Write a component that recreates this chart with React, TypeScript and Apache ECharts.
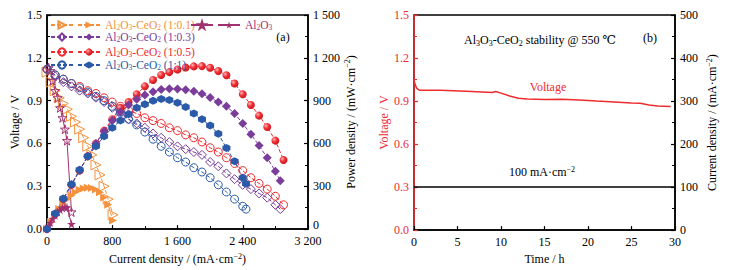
import React, { useEffect, useRef } from 'react';
import * as echarts from 'echarts';

const FONT = 'Liberation Serif, DejaVu Serif, serif';

const ORANGE = '#f5913c';
const PURPLE = '#7b3d9b';
const RED = '#ee2b2f';
const BLUE = '#2a5aa8';
const MAROON = '#a0306f';

// ---------- panel (a): current density (mA/cm2), voltage (V), power density (mW/cm2)
const curr01 = [0, 50, 100, 150, 200, 250, 300, 350, 400, 450, 500, 550, 600, 650, 700, 750, 810];
const volt01 = [1.10, 1.03, 0.97, 0.92, 0.88, 0.84, 0.79, 0.75, 0.70, 0.64, 0.58, 0.52, 0.45, 0.38, 0.30, 0.21, 0.10];
const pow01 = [0, 50, 95, 140, 175, 210, 235, 258, 275, 285, 290, 288, 278, 258, 222, 170, 60];

const currAl = [20, 40, 70, 100, 130, 160, 190, 220, 245, 300];
const voltAl = [1.13, 1.11, 1.04, 0.97, 0.92, 0.85, 0.78, 0.70, 0.62, 0.12];
const powAl = [23, 44, 73, 97, 120, 136, 148, 154, 152, 36];

const curr03 = [0, 100, 200, 300, 400, 500, 600, 700, 800, 900, 1000, 1100, 1200, 1300, 1400, 1500, 1600, 1700, 1800, 1900, 2000, 2100, 2200, 2300, 2400, 2500, 2600, 2700, 2800, 2860];
const volt03 = [1.12, 1.07, 1.03, 1.00, 0.97, 0.95, 0.92, 0.89, 0.85, 0.81, 0.77, 0.74, 0.71, 0.67, 0.64, 0.61, 0.58, 0.56, 0.54, 0.52, 0.47, 0.44, 0.39, 0.35, 0.31, 0.28, 0.25, 0.22, 0.17, 0.14];
const pow03 = [0, 105, 210, 310, 410, 510, 600, 685, 760, 820, 870, 910, 940, 962, 978, 984, 982, 976, 965, 948, 922, 890, 860, 810, 740, 665, 585, 500, 405, 339];

const curr05 = [0, 100, 200, 300, 400, 500, 600, 700, 800, 900, 1000, 1100, 1200, 1300, 1400, 1500, 1600, 1700, 1800, 1900, 2000, 2100, 2200, 2300, 2400, 2500, 2600, 2700, 2800, 2900];
const volt05 = [1.12, 1.08, 1.05, 1.02, 1.00, 0.97, 0.95, 0.92, 0.89, 0.86, 0.83, 0.81, 0.78, 0.76, 0.74, 0.71, 0.69, 0.66, 0.64, 0.61, 0.57, 0.54, 0.50, 0.46, 0.41, 0.36, 0.32, 0.28, 0.23, 0.17];
const pow05 = [0, 105, 210, 310, 410, 510, 600, 690, 770, 850, 890, 945, 1000, 1045, 1080, 1100, 1118, 1132, 1140, 1142, 1130, 1108, 1078, 1020, 945, 870, 795, 715, 620, 484];

const curr11 = [0, 100, 200, 300, 400, 500, 600, 700, 800, 900, 1000, 1100, 1200, 1300, 1400, 1500, 1600, 1700, 1800, 1900, 2000, 2100, 2200, 2300, 2400, 2440];
const volt11 = [1.12, 1.08, 1.05, 1.02, 0.99, 0.96, 0.93, 0.90, 0.86, 0.82, 0.77, 0.73, 0.68, 0.63, 0.58, 0.54, 0.50, 0.47, 0.43, 0.40, 0.36, 0.31, 0.26, 0.21, 0.16, 0.14];
const pow11 = [0, 110, 215, 315, 415, 510, 580, 650, 710, 760, 805, 850, 875, 900, 912, 905, 885, 855, 810, 770, 725, 668, 568, 475, 360, 318];

const xTicksA = ['0', '800', '1 600', '2 400', '3 200'];
const yTicksA = ['0.0', '0.3', '0.6', '0.9', '1.2', '1.5'];
const y2TicksA = ['0', '300', '600', '900', '1 200', '1 500'];

// ---------- panel (b): stability test
const timeB = [0, 0.1, 0.3, 0.6, 3, 6, 9, 9.4, 10, 11, 12, 13, 15, 17, 19, 21, 23, 25, 26, 27, 28, 29.5];
const voltB = [1.05, 1.02, 0.99, 0.975, 0.975, 0.968, 0.96, 0.967, 0.955, 0.935, 0.92, 0.915, 0.91, 0.912, 0.908, 0.9, 0.893, 0.886, 0.884, 0.872, 0.866, 0.862];
const currTimeB = [0, 30];
const currB = [100, 100];

const pairs = (x: number[], y: number[]) => x.map((v, i) => [v, y[i]]);

const STAR = 'path://M50,0 L61,35 L98,35 L68,57 L79,91 L50,70 L21,91 L32,57 L2,35 L39,35 Z';
const HEX = 'path://M50,0 L93,25 L93,75 L50,100 L7,75 L7,25 Z';
const CLEAR = 'rgba(255,255,255,0)';

const richFor = (key: string, color: string) => ({
  [key]: { color, fontSize: 11.5, fontFamily: FONT, lineHeight: 13 },
  [key + 's']: { color, fontSize: 7.5, fontFamily: FONT, lineHeight: 6, verticalAlign: 'bottom' },
});
const alceo = (k: string, ratio: string) =>
  `{${k}|Al}{${k}s|2}{${k}|O}{${k}s|3}{${k}|-CeO}{${k}s|2}{${k}| (${ratio})}`;

const LEGEND_LABELS: Record<string, string> = {
  p01: alceo('o', '1:0.1'),
  p03: alceo('p', '1:0.3'),
  p05: alceo('r', '1:0.5'),
  p11: alceo('b', '1:1'),
  pAl: '{m|Al}{ms|2}{m|O}{ms|3}',
};
const legendRich = {
  ...richFor('o', ORANGE),
  ...richFor('p', PURPLE),
  ...richFor('r', RED),
  ...richFor('b', BLUE),
  ...richFor('m', MAROON),
};

const nameRich = (color: string) => ({
  t: { fontSize: 12, fontFamily: FONT, color, lineHeight: 14 },
  sup: { fontSize: 8, fontFamily: FONT, color, lineHeight: 7, verticalAlign: 'top' },
});

export default function App() {
  const ref = useRef<HTMLDivElement>(null);
  useEffect(() => {
    if (!ref.current) return;
    const chart = echarts.init(ref.current, undefined, { renderer: 'svg' });

    const axisCommon = (color: string) => ({
      type: 'value' as const,
      axisLine: { show: true, onZero: false, lineStyle: { color, width: 1.5 } },
      axisTick: { show: true, inside: true, length: 4, lineStyle: { color, width: 1.2 } },
      minorTick: { show: true, splitNumber: 2, length: 3, lineStyle: { color, width: 1 } },
      splitLine: { show: false },
      minorSplitLine: { show: false },
      axisLabel: { color, fontSize: 12, fontFamily: FONT, margin: 5 },
      nameLocation: 'middle' as const,
    });

    const openStyle = (color: string) => ({ color: CLEAR, borderColor: color, borderWidth: 1 });

    const openLine = (name: string, x: number[], y: number[], color: string, symbol: string, size: number, extra: any = {}) => ({
      name, type: 'line', xAxisIndex: 0, yAxisIndex: 0, data: pairs(x, y),
      symbol, symbolSize: size,
      itemStyle: openStyle(color),
      lineStyle: { color, width: 1, type: [4, 2] },
      ...extra,
    });
    const filledLine = (name: string, x: number[], y: number[], color: string, symbol: string, size: number, extra: any = {}) => ({
      name, type: 'line', xAxisIndex: 0, yAxisIndex: 1, data: pairs(x, y),
      symbol, symbolSize: size,
      itemStyle: { color },
      lineStyle: { color, width: 1, type: [4, 2] },
      ...extra,
    });

    const redBall = new echarts.graphic.RadialGradient(0.35, 0.35, 0.7, [
      { offset: 0, color: '#ffb8b8' },
      { offset: 0.45, color: '#f2333a' },
      { offset: 1, color: '#c81418' },
    ]);

    const legendBase = {
      itemWidth: 22, itemHeight: 9, itemGap: 3, padding: 0, selectedMode: false,
      formatter: (n: string) => LEGEND_LABELS[n] || '',
      textStyle: { rich: legendRich, fontFamily: FONT, fontSize: 11.5 },
    };

    chart.setOption({
      animation: false,
      grid: [
        { left: 47, width: 261, top: 15, height: 217, show: true, borderColor: '#000', borderWidth: 1.5 },
        { left: 414, width: 261, top: 15, height: 217, show: true, borderColor: '#000', borderWidth: 1.5 },
      ],
      xAxis: [
        {
          ...axisCommon('#000'), gridIndex: 0, min: 0, max: 3200, interval: 800,
          axisLabel: { color: '#000', fontSize: 12, fontFamily: FONT, margin: 6, formatter: (v: number) => xTicksA[Math.round(v / 800)] },
          name: '{t|Current density / (mA·cm}{sup|−2}{t|)}', nameGap: 20,
          nameTextStyle: { rich: nameRich('#000') },
        },
        {
          ...axisCommon('#000'), gridIndex: 1, min: 0, max: 30, interval: 5,
          minorTick: { show: false },
          axisLabel: { color: '#000', fontSize: 12, fontFamily: FONT, margin: 6 },
          name: '{t|Time / h}', nameGap: 20,
          nameTextStyle: { rich: nameRich('#000') },
        },
      ],
      yAxis: [
        {
          ...axisCommon('#000'), gridIndex: 0, min: 0, max: 1.5, interval: 0.3,
          axisLabel: { color: '#000', fontSize: 12, fontFamily: FONT, margin: 5, formatter: (v: number) => yTicksA[Math.round(v / 0.3)] },
          name: '{t|Voltage / V}', nameGap: 25, nameRotate: 90,
          nameTextStyle: { rich: nameRich('#000') },
        },
        {
          ...axisCommon('#000'), gridIndex: 0, position: 'right', min: 0, max: 1500, interval: 300,
          axisLabel: {
            color: '#000', fontSize: 12, fontFamily: FONT, margin: 5,
            formatter: (v: number) => (v === 0 ? '{z|0}' : y2TicksA[Math.round(v / 300)]),
            rich: { z: { fontSize: 12, fontFamily: FONT, color: '#000', padding: [0, 0, 8, 0] } },
          },
          name: '{t|Power density / (mW·cm}{sup|−2}{t|)}', nameGap: 32, nameRotate: 90,
          nameTextStyle: { rich: nameRich('#000') },
        },
        {
          ...axisCommon(RED), gridIndex: 1, min: 0, max: 1.5, interval: 0.3,
          axisLabel: { color: RED, fontSize: 12, fontFamily: FONT, margin: 5, formatter: (v: number) => yTicksA[Math.round(v / 0.3)] },
          name: '{t|Voltage / V}', nameGap: 22, nameRotate: 90,
          nameTextStyle: { rich: nameRich(RED) },
        },
        {
          ...axisCommon('#000'), gridIndex: 1, position: 'right', min: 0, max: 500, interval: 100,
          name: '{t|Current density / (mA·cm}{sup|−2}{t|)}', nameGap: 30, nameRotate: 90,
          nameTextStyle: { rich: nameRich('#000') },
        },
      ],
      legend: [
        { ...legendBase, left: 50, top: 19, data: ['v01', 'p01'] },
        { ...legendBase, left: 190, top: 19, data: ['vAl', 'pAl'] },
        { ...legendBase, left: 50, top: 31, data: ['v03', 'p03'] },
        { ...legendBase, left: 50, top: 46, data: ['v05', 'p05'] },
        { ...legendBase, left: 50, top: 59, data: ['v11', 'p11'] },
      ],
      graphic: [
        { type: 'text', x: 283, y: 37, style: { text: '(a)', fontSize: 12, fontFamily: FONT, fill: '#000', align: 'center', verticalAlign: 'middle' } },
        { type: 'text', x: 650, y: 38, style: { text: '(b)', fontSize: 12, fontFamily: FONT, fill: '#000', align: 'center', verticalAlign: 'middle' } },
        {
          type: 'text', x: 540, y: 40,
          style: {
            text: '{n|Al}{s|3}{n|O}{s|3}{n|-CeO}{s|2}{n| stability @ 550 ℃}',
            align: 'center', verticalAlign: 'middle', fill: '#000',
            rich: {
              n: { fontSize: 12, fontFamily: FONT, fill: '#000', lineHeight: 14 },
              s: { fontSize: 8, fontFamily: FONT, fill: '#000', lineHeight: 7, verticalAlign: 'bottom' },
            },
          },
        },
        { type: 'text', x: 548, y: 87, style: { text: 'Voltage', fontSize: 12, fontFamily: FONT, fill: RED, align: 'center', verticalAlign: 'middle' } },
        {
          type: 'text', x: 542, y: 172,
          style: {
            text: '{n|100 mA·cm}{s|−2}',
            align: 'center', verticalAlign: 'middle', fill: '#000',
            rich: {
              n: { fontSize: 12, fontFamily: FONT, fill: '#000', lineHeight: 14 },
              s: { fontSize: 8, fontFamily: FONT, fill: '#000', lineHeight: 7, verticalAlign: 'top' },
            },
          },
        },
      ],
      series: [
        openLine('v01', curr01, volt01, ORANGE, 'triangle', 10, { symbolRotate: -90 }),
        openLine('vAl', currAl, voltAl, MAROON, STAR, 9, { lineStyle: { color: MAROON, width: 1 } }),
        openLine('v03', curr03, volt03, PURPLE, 'diamond', 9),
        openLine('v05', curr05, volt05, RED, 'circle', 8),
        openLine('v11', curr11, volt11, BLUE, 'circle', 8),
        filledLine('p01', curr01, pow01, ORANGE, 'triangle', 8, { symbolRotate: -90 }),
        filledLine('pAl', currAl, powAl, MAROON, STAR, 9, { lineStyle: { color: MAROON, width: 1 } }),
        filledLine('p05', curr05, pow05, RED, 'circle', 8, { itemStyle: { color: redBall } }),
        filledLine('p03', curr03, pow03, PURPLE, 'diamond', 9),
        filledLine('p11', curr11, pow11, BLUE, HEX, 8),
        {
          name: 'voltB', type: 'line', xAxisIndex: 1, yAxisIndex: 2, data: pairs(timeB, voltB),
          showSymbol: false, symbol: 'none', lineStyle: { color: RED, width: 1.5 },
        },
        {
          name: 'currB', type: 'line', xAxisIndex: 1, yAxisIndex: 3, data: pairs(currTimeB, currB),
          showSymbol: false, symbol: 'none', lineStyle: { color: '#000', width: 1.5 },
        },
      ],
    });
    return () => chart.dispose();
  }, []);
  return <div ref={ref} style={{ position: 'absolute', left: 0, top: 0, width: 730, height: 270 }} />;
}
